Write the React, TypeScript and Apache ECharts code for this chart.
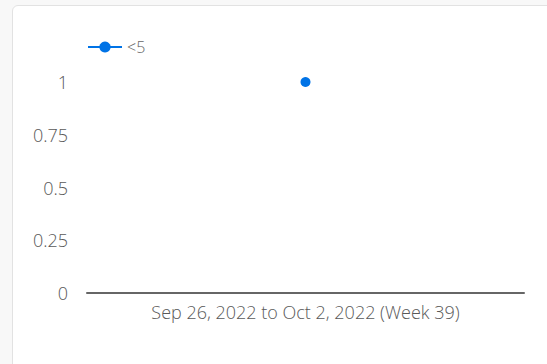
import React, { useEffect, useRef } from "react";
import * as echarts from "echarts";

const categories = ["Sep 26, 2022 to Oct 2, 2022 (Week 39)"];
const seriesName = "<5";
const values = [1];
const yTicks = [0, 0.25, 0.5, 0.75, 1];

export default function App() {
  const ref = useRef<HTMLDivElement>(null);
  useEffect(() => {
    if (!ref.current) return;
    const chart = echarts.init(ref.current, undefined, { renderer: "svg" });
    const font = { fontFamily: "Open Sans", fontWeight: 300 as any };
    chart.setOption({
      animation: false,
      textStyle: { fontFamily: "Open Sans" },
      legend: {
        left: 87,
        top: 39,
        padding: 0,
        itemWidth: 34,
        itemHeight: 14,
        itemGap: 10,
        textStyle: { color: "#666", fontSize: 16, ...font },
        data: [{ name: seriesName }],
      },
      grid: { left: 87, right: 23, top: 82, bottom: 71, containLabel: false },
      xAxis: {
        type: "category",
        data: categories,
        boundaryGap: true,
        axisLine: { lineStyle: { color: "#666", width: 2 } },
        axisTick: { show: false },
        axisLabel: { color: "#595959", fontSize: 18, ...font, margin: 10 },
        splitLine: { show: false },
      },
      yAxis: {
        type: "value",
        min: yTicks[0],
        max: yTicks[yTicks.length - 1],
        interval: 0.25,
        axisLine: { show: false },
        axisTick: { show: false },
        splitLine: { show: false },
        axisLabel: { color: "#595959", fontSize: 18, ...font, margin: 19 },
      },
      series: [
        {
          name: seriesName,
          type: "line",
          data: values,
          symbol: "circle",
          symbolSize: 10,
          showSymbol: true,
          itemStyle: { color: "#0073e6" },
          lineStyle: { color: "#0073e6", width: 3 },
        },
      ],
    });
    return () => chart.dispose();
  }, []);
  return (
    <div style={{ position: "fixed", left: 0, top: 0, width: 547, height: 364, background: "#f8f8f8", overflow: "hidden" }}>
      <div
        style={{
          position: "absolute",
          left: 12,
          top: 5,
          width: 600,
          height: 420,
          background: "#fff",
          border: "1px solid #e2e2e2",
          borderRadius: 6,
          boxSizing: "border-box",
        }}
      />
      <div ref={ref} style={{ position: "absolute", left: 0, top: 0, width: 547, height: 364 }} />
    </div>
  );
}
